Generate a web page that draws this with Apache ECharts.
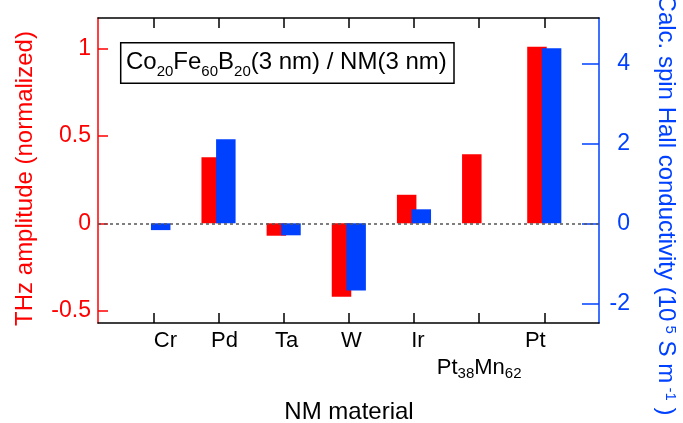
<!DOCTYPE html>
<html><head><meta charset="utf-8">
<script src="https://cdn.jsdelivr.net/npm/echarts@6/dist/echarts.min.js"></script>
<style>html,body{margin:0;padding:0;background:#fff}#c{width:683px;height:423px}</style>
</head><body><div id="c"></div>
<script>
// ---- data ----
const categories = ['Cr', 'Pd', 'Ta', 'W', 'Ir', 'Pt38Mn62', 'Pt'];
const thzAmplitude = [0, 0.377, -0.071, -0.42, 0.163, 0.394, 1.009];   // left axis (normalized)
const spinHallCond = [-0.17, 2.10, -0.30, -1.68, 0.35, null, 4.375];   // right axis (10^5 S/m)
const leftTicks = [-0.5, 0, 0.5, 1];
const rightTicks = [-2, 0, 2, 4];

// label nudges (px, horizontal) as placed in the original figure
const labelShift = [12, 6, 3, 2.5, 4, 0, -9];

const RED = '#ff0000', BLUE = '#0040ff', BLACK = '#000';
const FONT = '"Liberation Sans", Arial, Helvetica, sans-serif';
const catIdx = categories.map((_, i) => i);

const labelRich = {
  low: { fontSize: 22, lineHeight: 22, verticalAlign: 'top', padding: [27, 0, 0, 0], color: BLACK, fontFamily: FONT },
  lowsub: { fontSize: 15, lineHeight: 15, verticalAlign: 'top', padding: [36, 0, 0, 0], color: BLACK, fontFamily: FONT }
};
labelShift.forEach((d, i) => {
  labelRich['c' + i] = {
    fontSize: 22, lineHeight: 22, verticalAlign: 'top', color: BLACK, fontFamily: FONT,
    padding: [0, d < 0 ? -2 * d : 0, 0, d > 0 ? 2 * d : 0]
  };
});

function catLabel(v) {
  const i = Math.round(v);
  const c = categories[i];
  if (c === 'Pt38Mn62') return '{low|Pt}{lowsub|38}{low|Mn}{lowsub|62}';
  return '{c' + i + '|' + c + '}';
}

const redData = thzAmplitude.map((v, i) => [i, v]).filter(d => d[1] !== null);
const blueData = spinHallCond.map((v, i) => [i, v]).filter(d => d[1] !== null);

const chart = echarts.init(document.getElementById('c'), null, { renderer: 'canvas' });

const xCommon = {
  type: 'value', min: -0.85, max: 6.84,
  axisLine: { show: true, onZero: false, lineStyle: { color: BLACK, width: 1.5 } },
  splitLine: { show: false }
};

chart.setOption({
  animation: false,
  textStyle: { fontFamily: FONT },
  grid: { left: 98, right: 84, top: 18, bottom: 100 },
  xAxis: [
    Object.assign({}, xCommon, {
      position: 'bottom',
      axisTick: { show: true, inside: true, length: 10, customValues: catIdx, lineStyle: { color: BLACK, width: 1.5 } },
      axisLabel: {
        customValues: catIdx, formatter: catLabel, color: BLACK, fontSize: 22, fontFamily: FONT, margin: 7,
        rich: labelRich
      }
    }),
    Object.assign({}, xCommon, {
      position: 'top',
      axisTick: { show: true, inside: true, length: 10, customValues: catIdx, lineStyle: { color: BLACK, width: 1.5 } },
      axisLabel: { show: false }
    })
  ],
  yAxis: [
    {
      type: 'value', position: 'left', min: -0.5697, max: 1.1731,
      axisLine: { show: true, onZero: false, lineStyle: { color: RED, width: 1.5 } },
      axisTick: { show: true, inside: true, length: 10, customValues: leftTicks, lineStyle: { color: RED, width: 1.5 } },
      axisLabel: { customValues: leftTicks, color: RED, fontSize: 23, fontFamily: FONT, margin: 7, formatter: v => String(v) },
      splitLine: { show: false }
    },
    {
      type: 'value', position: 'right', min: -2.4925, max: 5.1325,
      axisLine: { show: true, onZero: false, lineStyle: { color: BLUE, width: 1.5 } },
      axisTick: { show: true, inside: true, length: 17, customValues: rightTicks, lineStyle: { color: BLUE, width: 1.5 } },
      axisLabel: { customValues: rightTicks, color: BLUE, fontSize: 23, fontFamily: FONT, margin: 31, align: 'right', formatter: v => String(v) },
      splitLine: { show: false }
    }
  ],
  series: [
    {
      type: 'bar', xAxisIndex: 0, yAxisIndex: 0, data: redData,
      barWidth: 19.5, barGap: '-25%',
      itemStyle: { color: RED }
    },
    {
      type: 'bar', xAxisIndex: 0, yAxisIndex: 1, data: blueData,
      barWidth: 19.5, barGap: '-25%',
      itemStyle: { color: BLUE },
      markLine: {
        silent: true, symbol: 'none', label: { show: false },
        lineStyle: { color: '#555', type: [3, 3], width: 1.5 },
        data: [{ yAxis: 0 }]
      }
    }
  ],
  graphic: [
    {
      type: 'rect', shape: { x: 120.7, y: 42.7, width: 333.3, height: 40.6 },
      style: { fill: 'none', stroke: BLACK, lineWidth: 1.5 }, z: 10
    },
    {
      type: 'text', x: 126, y: 50.6, z: 11,
      style: {
        text: '{m|Co}{s|20}{m|Fe}{s|60}{m|B}{s|20}{m|(3 nm) / NM(3 nm)}',
        verticalAlign: 'top', align: 'left',
        rich: {
          m: { fontSize: 24, lineHeight: 24, verticalAlign: 'top', fill: BLACK, fontFamily: FONT },
          s: { fontSize: 15, lineHeight: 15, verticalAlign: 'top', padding: [14, 0, 0, 0], fill: BLACK, fontFamily: FONT }
        }
      }
    },
    {
      type: 'text', x: 25, y: 178.5, rotation: Math.PI / 2,
      style: { text: 'THz amplitude (normalized)', fontSize: 24, fontFamily: FONT, fill: RED, align: 'center', verticalAlign: 'middle' }
    },
    {
      type: 'text', x: 665.8, y: 205, rotation: -Math.PI / 2,
      style: {
        text: '{m|Calc. spin Hall conductivity (10}{sup| 5}{m| S m}{sup| -1}{m| )}',
        align: 'center', verticalAlign: 'middle',
        rich: {
          m: { fontSize: 24, lineHeight: 24, verticalAlign: 'bottom', fill: BLUE, fontFamily: FONT },
          sup: { fontSize: 15, lineHeight: 15, verticalAlign: 'top', padding: [0, 0, 13.75, 0], fill: BLUE, fontFamily: FONT }
        }
      }
    },
    {
      type: 'text', x: 349, y: 412,
      style: { text: 'NM material', fontSize: 24, fontFamily: FONT, fill: BLACK, align: 'center', verticalAlign: 'middle' }
    }
  ]
});
</script>
</body></html>
